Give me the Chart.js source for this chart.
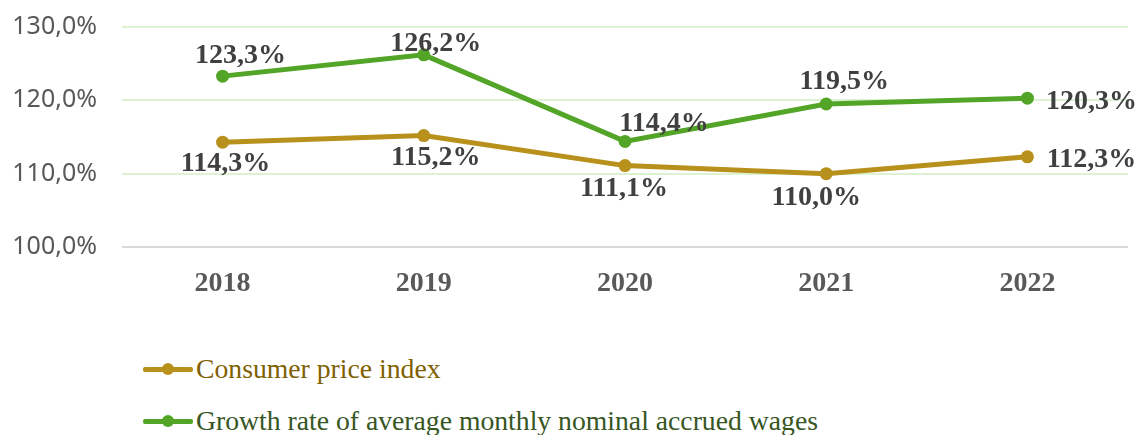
<!DOCTYPE html>
<html>
<head>
<meta charset="utf-8">
<script src="https://cdn.jsdelivr.net/npm/chart.js@4.4.0/dist/chart.umd.min.js"></script>
<style>
  html, body { margin: 0; padding: 0; background: #ffffff; }
  #wrap { position: relative; width: 1138px; height: 435px; overflow: hidden; }
  #chartBox { position: absolute; left: 0; top: -13px; width: 1138px; height: 323px; }
  .leg { position: absolute; left: 143px; height: 30px; font-family: "Liberation Serif", "Times New Roman", serif; font-size: 27.7px; white-space: nowrap; }
  .leg .ln { position: absolute; left: 0; top: 50%; width: 50px; height: 5px; margin-top: -2.5px; border-radius: 2px; }
  .leg .dt { position: absolute; left: 19px; top: 50%; width: 12px; height: 12px; margin-top: -6px; border-radius: 50%; }
  .leg .tx { position: absolute; left: 53px; top: 50%; transform: translateY(-50%); line-height: 1; }
</style>
</head>
<body>
<div id="wrap">
  <div id="chartBox"><canvas id="c"></canvas></div>
  <div class="leg" id="leg0" style="top:354px;"><div class="ln"></div><div class="dt"></div><div class="tx"></div></div>
  <div class="leg" id="leg1" style="top:406px;"><div class="ln"></div><div class="dt"></div><div class="tx"></div></div>
</div>
<script>
const years = ["2018", "2019", "2020", "2021", "2022"];
const cpiValues = [114.3, 115.2, 111.1, 110.0, 112.3];
const wageValues = [123.3, 126.2, 114.4, 119.5, 120.3];
const seriesNames = ["Consumer price index", "Growth rate of average monthly nominal accrued wages"];
const yTicks = [100, 110, 120, 130];

const cpiColor = "#b8901c";
const wageColor = "#52a527";
const legendTextColors = ["#7f6000", "#375623"];

// label placement (dx, dy relative to point) per series
const cpiLabelPos = [[3, 22], [12, 22], [-1, 23], [-10, 24], [64, 3]];
const wageLabelPos = [[18, -20], [12, -11], [39, -18], [18, -22], [64, 4]];

function fmt(v) { return v.toFixed(1).replace('.', ',') + '%'; }

const labelPlugin = {
  id: 'valueLabels',
  afterDatasetsDraw(chart) {
    const ctx = chart.ctx;
    ctx.save();
    ctx.font = 'bold 28px "Liberation Serif", "Times New Roman", serif';
    ctx.fillStyle = '#404040';
    ctx.textAlign = 'center';
    ctx.textBaseline = 'middle';
    chart.data.datasets.forEach((ds, di) => {
      const meta = chart.getDatasetMeta(di);
      const pos = di === 0 ? cpiLabelPos : wageLabelPos;
      meta.data.forEach((pt, i) => {
        ctx.fillText(fmt(ds.data[i]), pt.x + pos[i][0], pt.y + pos[i][1]);
      });
    });
    ctx.restore();
  }
};

const chart = new Chart(document.getElementById('c'), {
  type: 'line',
  data: {
    labels: years,
    datasets: [
      { label: seriesNames[0], data: cpiValues, borderColor: cpiColor, backgroundColor: cpiColor,
        borderWidth: 5, pointRadius: 6.5, pointHoverRadius: 6.5, pointBorderWidth: 0, tension: 0 },
      { label: seriesNames[1], data: wageValues, borderColor: wageColor, backgroundColor: wageColor,
        borderWidth: 5, pointRadius: 6.5, pointHoverRadius: 6.5, pointBorderWidth: 0, tension: 0 }
    ]
  },
  options: {
    responsive: true,
    maintainAspectRatio: false,
    animation: false,
    layout: { padding: { top: 0, right: 10, left: 0, bottom: 0 } },
    plugins: { legend: { display: false }, tooltip: { enabled: false } },
    scales: {
      x: {
        offset: true,
        grid: { display: false, drawTicks: false },
        border: { display: false },
        ticks: { color: '#595959', padding: 20, font: { family: '"Liberation Serif", "Times New Roman", serif', size: 28, weight: 'bold' } },
        afterFit(s) { s.height = 63; }
      },
      y: {
        min: 100, max: 130,
        afterBuildTicks(s) { s.ticks = yTicks.map(v => ({ value: v })); },
        grid: {
          drawTicks: false, lineWidth: 2,
          color: (c) => c.tick && c.tick.value === 100 ? '#d9d9d9' : '#ddf2d3'
        },
        border: { display: false },
        ticks: { color: '#595959', padding: 25, font: { family: '"Noto Sans", sans-serif', size: 25 },
                 callback: (v) => v.toFixed(1).replace('.', ',') + '%' },
        afterFit(s) { s.width = 122; }
      }
    }
  },
  plugins: [labelPlugin]
});

[cpiColor, wageColor].forEach((col, i) => {
  const el = document.getElementById('leg' + i);
  el.querySelector('.ln').style.background = col;
  el.querySelector('.dt').style.background = col;
  const tx = el.querySelector('.tx');
  tx.textContent = seriesNames[i];
  tx.style.color = legendTextColors[i];
});
</script>
</body>
</html>
